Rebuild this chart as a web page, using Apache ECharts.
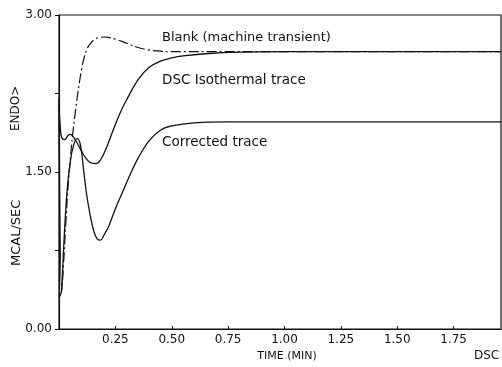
<!DOCTYPE html>
<html>
<head>
<meta charset="utf-8">
<script src="https://cdn.jsdelivr.net/npm/echarts@6/dist/echarts.min.js"></script>
<style>
  html, body { margin: 0; padding: 0; background: #fff; }
  #chart { width: 502px; height: 367px; }
</style>
</head>
<body>
<div id="chart"></div>
<script>
// time (min) and MCAL/SEC
var tBlank = [0, 0.01, 0.02, 0.03, 0.04, 0.05, 0.06, 0.07, 0.08, 0.09, 0.10, 0.11, 0.125, 0.14, 0.16, 0.18, 0.20, 0.22, 0.25, 0.30, 0.35, 0.40, 0.45, 0.50, 0.75, 1.00, 1.50, 1.96];
var vBlank = [0.30, 0.35, 0.62, 1.00, 1.35, 1.62, 1.85, 2.03, 2.20, 2.35, 2.48, 2.58, 2.68, 2.73, 2.77, 2.785, 2.79, 2.785, 2.77, 2.73, 2.69, 2.665, 2.655, 2.65, 2.65, 2.65, 2.65, 2.65];

var tDsc = [0, 0.005, 0.012, 0.025, 0.04, 0.05, 0.065, 0.08, 0.10, 0.12, 0.14, 0.165, 0.185, 0.21, 0.24, 0.27, 0.30, 0.35, 0.40, 0.45, 0.50, 0.55, 0.65, 0.80, 1.00, 1.50, 1.96];
var vDsc = [2.15, 1.95, 1.83, 1.81, 1.85, 1.86, 1.83, 1.78, 1.70, 1.63, 1.59, 1.58, 1.62, 1.73, 1.90, 2.06, 2.19, 2.38, 2.50, 2.56, 2.59, 2.61, 2.63, 2.645, 2.65, 2.65, 2.65];

var tCorr = [0, 0.012, 0.02, 0.035, 0.05, 0.065, 0.08, 0.095, 0.11, 0.125, 0.14, 0.155, 0.17, 0.183, 0.20, 0.22, 0.25, 0.28, 0.31, 0.35, 0.40, 0.45, 0.50, 0.60, 0.75, 1.00, 1.50, 1.96];
var vCorr = [2.20, 0.35, 0.75, 1.30, 1.60, 1.76, 1.82, 1.76, 1.50, 1.25, 1.07, 0.93, 0.86, 0.85, 0.90, 0.98, 1.15, 1.30, 1.45, 1.63, 1.80, 1.90, 1.94, 1.97, 1.98, 1.98, 1.98, 1.98];

var yTickLabels = ['0.00', '1.50', '3.00'];

function pairs(ts, vs) {
  var out = [];
  for (var i = 0; i < ts.length; i++) out.push([ts[i], vs[i]]);
  return out;
}

var font = 'DejaVu Sans';
var ink = '#111';

var myChart = echarts.init(document.getElementById('chart'));

var option = {
  animation: false,
  backgroundColor: '#fff',
  grid: {
    left: 59, right: 1, top: 15, bottom: 34,
    show: true, borderColor: ink, borderWidth: 1.2
  },
  xAxis: {
    type: 'value',
    min: 0, max: 1.96, interval: 0.25,
    name: 'TIME (MIN)',
    nameLocation: 'middle',
    nameGap: 17,
    nameTextStyle: { color: ink, fontFamily: font, fontSize: 11, padding: [0, 0, 0, 14] },
    axisLine: { lineStyle: { color: ink, width: 1.2 } },
    axisTick: { inside: true, length: 3, lineStyle: { color: ink } },
    splitLine: { show: false },
    axisLabel: {
      color: ink, fontFamily: font, fontSize: 12, margin: 5,
      showMinLabel: false, showMaxLabel: false,
      formatter: function (v) { return v === 0 ? '' : v.toFixed(2); }
    }
  },
  yAxis: {
    type: 'value',
    min: 0, max: 3, interval: 0.75,
    axisLine: { show: true, lineStyle: { color: ink, width: 1.2 } },
    axisTick: { show: true, length: 4, lineStyle: { color: ink } },
    splitLine: { show: false },
    axisLabel: {
      color: ink, fontFamily: font, fontSize: 12, margin: 7,
      formatter: function (v) {
        var s = v.toFixed(2);
        return yTickLabels.indexOf(s) >= 0 ? s : '';
      }
    }
  },
  series: [
    {
      name: 'Blank (machine transient)',
      type: 'line',
      showSymbol: false,
      smooth: 0.4,
      data: pairs(tBlank, vBlank),
      lineStyle: { color: ink, width: 1.2, type: [10, 3, 2, 3] }
    },
    {
      name: 'DSC Isothermal trace',
      type: 'line',
      showSymbol: false,
      smooth: 0.4,
      data: pairs(tDsc, vDsc),
      lineStyle: { color: ink, width: 1.3 }
    },
    {
      name: 'Corrected trace',
      type: 'line',
      showSymbol: false,
      smooth: 0.4,
      data: pairs(tCorr, vCorr),
      lineStyle: { color: ink, width: 1.3 }
    }
  ],
  graphic: [
    { type: 'text', left: 162, top: 31, style: { text: 'Blank (machine transient)', fill: ink, font: '13px ' + font } },
    { type: 'text', left: 162, top: 73, style: { text: 'DSC Isothermal trace', fill: ink, font: '13.5px ' + font } },
    { type: 'text', left: 162, top: 135, style: { text: 'Corrected trace', fill: ink, font: '13.5px ' + font } },
    { type: 'text', x: 10, y: 131, rotation: Math.PI / 2, style: { text: 'ENDO>', fill: ink, font: '12px ' + font } },
    { type: 'text', x: 10, y: 266, rotation: Math.PI / 2, style: { text: 'MCAL/SEC', fill: ink, font: '13px ' + font } },
    { type: 'text', left: 474, top: 350, style: { text: 'DSC', fill: ink, font: '12px ' + font } }
  ]
};

myChart.setOption(option);
</script>
</body>
</html>
